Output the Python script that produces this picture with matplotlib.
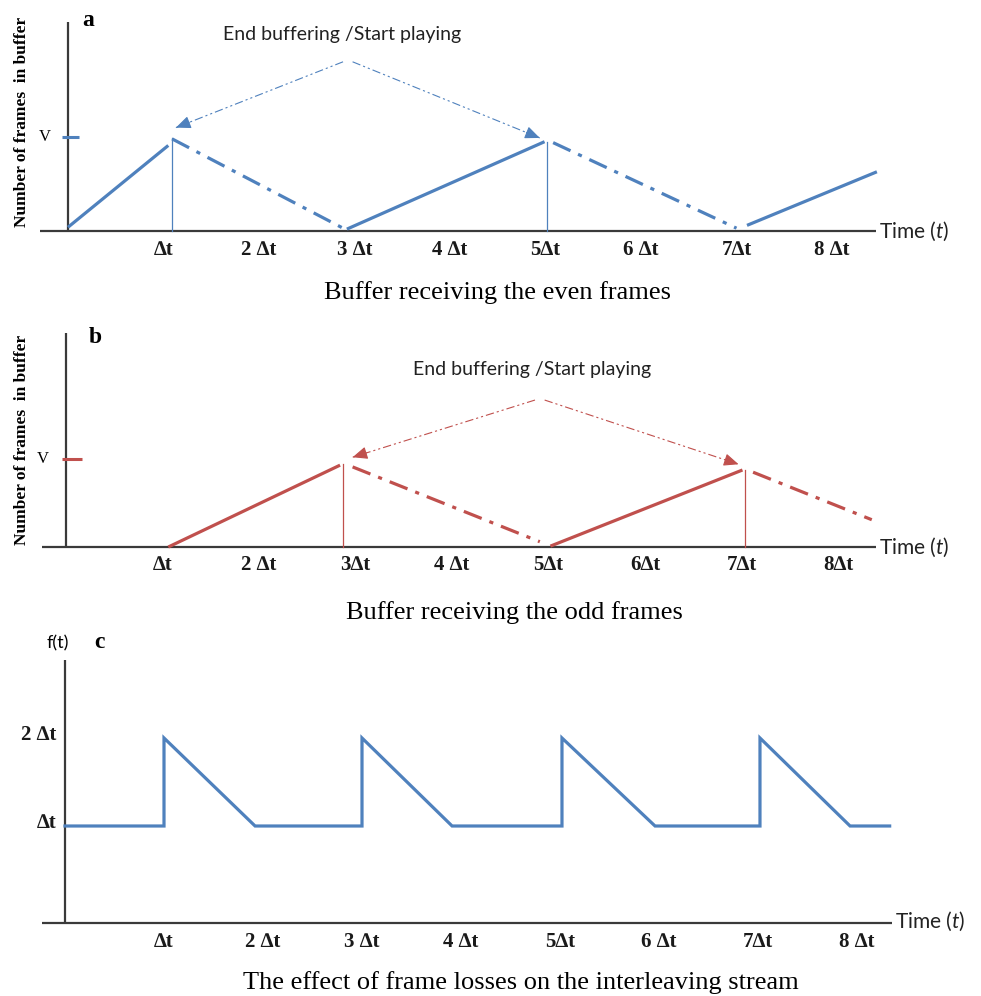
import matplotlib
matplotlib.use('Agg')
import matplotlib.pyplot as plt

plt.rcParams['mathtext.fontset'] = 'custom'
plt.rcParams['mathtext.rm'] = 'Lato'
plt.rcParams['mathtext.it'] = 'Lato:italic'

# ---------------- data (time in units of Δt, level in units of V / Δt) ----------------
steps = [1, 2, 3, 4, 5, 6, 7, 8]
labels_a = ['∆t', '2 ∆t', '3 ∆t', '4 ∆t', '5∆t', '6 ∆t', '7∆t', '8 ∆t']
labels_b = ['∆t', '2 ∆t', '3∆t', '4 ∆t', '5∆t', '6∆t', '7∆t', '8∆t']
labels_c = ['∆t', '2 ∆t', '3 ∆t', '4 ∆t', '5∆t', '6 ∆t', '7∆t', '8 ∆t']

# panel a: buffer receiving even frames
even_fill = [((0.00, 0.04), (1.05, 0.91)), ((2.92, 0.02), (4.99, 0.95)), ((7.11, 0.06), (8.47, 0.63))]
even_drain = [((1.09, 0.98), (2.88, 0.03)), ((5.08, 0.94), (7.00, 0.03))]
even_marks_t = [1.09, 5.02]
even_marks_v = [0.99, 0.95]
even_apex = (2.88, 2.98, 1.80)
even_tips = [(1.13, 1.10), (4.94, 0.99)]

# panel b: buffer receiving odd frames
odd_fill = [((1.06, 0.00), (2.84, 0.93)), ((5.02, 0.01), (7.01, 0.875))]
odd_drain = [((2.97, 0.91), (4.91, 0.06)), ((7.12, 0.85), (8.35, 0.31))]
odd_marks_t = [2.87, 7.04]
odd_marks_v = [0.94, 0.875]
odd_apex = (4.86, 4.96, 1.67)
odd_tips = [(2.97, 1.02), (6.97, 0.94)]

# panel c: f(t)
f_t = [0.0, 1.0, 1.0, 1.92, 3.0, 3.0, 3.91, 5.02, 5.02, 5.96, 7.02, 7.02, 7.93, 8.33]
f_v = [1, 1, 2, 1, 1, 2, 1, 1, 2, 1, 1, 2, 1, 1]
f_levels = [1, 2]
f_level_labels = ['∆t', '2 ∆t']

BLUE = '#4F81BD'
RED = '#C0504D'
AXC = '#3a3a3a'
SERIF = 'Liberation Serif'
SANS = 'Lato'

W, H = 981, 996
fig = plt.figure(figsize=(W / 100, H / 100), dpi=100)


def make_axes(ox, sx, oy, sy, xlim, ylim):
    left = ox + sx * xlim[0]
    right = ox + sx * xlim[1]
    bot = oy - sy * ylim[0]
    top = oy - sy * ylim[1]
    ax = fig.add_axes([left / W, 1 - bot / H, (right - left) / W, (bot - top) / H])
    ax.set_xlim(*xlim)
    ax.set_ylim(*ylim)
    ax.axis('off')
    return ax


DRAIN_LS = (0, (6, 2.6, 1.3, 2.6))
ARROW_LS = (0, (7.5, 2.7, 1.9, 2.7, 1.9, 2.7))
TICK_FS = 15
CAP_FS = 19


def buffer_panel(ax, color, fill, drain, marks_t, marks_v, apex, tips, labels,
                 xaxis, ytop, letter_pos, letter, text_pos, caption_pos, caption,
                 vtick, ylab_pos):
    # axes lines
    ax.plot(xaxis, [0, 0], color=AXC, lw=1.6, solid_capstyle='butt', clip_on=False)
    ax.plot([0, 0], [0, ytop], color=AXC, lw=1.6, solid_capstyle='butt', clip_on=False)
    for (t0, v0), (t1, v1) in fill:
        ax.plot([t0, t1], [v0, v1], color=color, lw=2.3, solid_capstyle='butt')
    for (t0, v0), (t1, v1) in drain:
        ax.plot([t0, t1], [v0, v1], color=color, lw=2.3, ls=DRAIN_LS, dash_capstyle='butt')
    for t, v in zip(marks_t, marks_v):
        ax.plot([t, t], [0, v], color=color, lw=0.9)
    # arrows
    tl, tr, va = apex
    for (tx, ty), start in zip(tips, [tl, tr]):
        ax.plot([start, tx], [va, ty], color=color, lw=0.8, ls=ARROW_LS)
        dx, dy = start - tx, va - ty
        n = (dx ** 2 + dy ** 2) ** 0.5
        ax.annotate('', xy=(tx, ty), xytext=(tx + 0.15 * dx / n, ty + 0.15 * dy / n),
                    arrowprops=dict(arrowstyle='-|>,head_length=0.75,head_width=0.32',
                                    color=color, lw=0.8, shrinkA=0, shrinkB=0,
                                    mutation_scale=12))
    ax.text(text_pos[0], text_pos[1], 'End buffering /Start playing', family=SANS,
            fontsize=14, color='#222222', ha='center', va='center')
    # V tick
    ax.plot(vtick[0], [1, 1], color=color, lw=2.2, solid_capstyle='butt')
    ax.text(vtick[1], 1.0, 'V', family=SERIF, fontsize=12, ha='center', va='center')
    for s, lab in zip(steps, labels):
        ax.text(s, -0.2, lab, family=SERIF, fontweight='bold', fontsize=TICK_FS,
                ha='center', va='center', color='#1a1a1a')
    ax.text(xaxis[1] + 0.03, 0.0, 'Time ($\\it{t}$)', family=SANS, fontsize=15,
            ha='left', va='center', color='#222222')
    ax.text(letter_pos[0], letter_pos[1], letter, family=SERIF, fontweight='bold',
            fontsize=17, ha='center', va='center')
    ax.text(caption_pos[0], caption_pos[1], caption, family=SERIF, fontsize=CAP_FS,
            ha='center', va='center')
    ax.text(ylab_pos[0], ylab_pos[1], 'Number of frames  in buffer', family=SERIF,
            fontweight='bold', fontsize=12.5, rotation=90, ha='center', va='center')


# ---------------- panel a ----------------
ax_a = make_axes(68, 95.5, 231, 94, (-0.7, 9.5), (-0.7, 2.4))
buffer_panel(ax_a, BLUE, even_fill, even_drain, even_marks_t, even_marks_v, even_apex,
             even_tips, labels_a, [-0.29, 8.46], 2.22, (0.21, 2.24), 'a', (2.87, 2.09),
             (4.50, -0.65), 'Buffer receiving the even frames', ([-0.06, 0.11], -0.24),
             (-0.48, 1.16))

# ---------------- panel b ----------------
ax_b = make_axes(66, 96.5, 547, 88, (-0.65, 9.4), (-0.8, 2.55))
buffer_panel(ax_b, RED, odd_fill, odd_drain, odd_marks_t, odd_marks_v, odd_apex,
             odd_tips, labels_b, [-0.25, 8.39], 2.43, (0.30, 2.38), 'b', (4.83, 2.02),
             (4.65, -0.75), 'Buffer receiving the odd frames', ([-0.04, 0.17], -0.24),
             (-0.46, 1.22))

# ---------------- panel c ----------------
ax_c = make_axes(65, 99, 914, 88, (-0.6, 9.2), (-0.85, 3.3))
ax_c.plot([-0.23, 8.35], [-0.1, -0.1], color=AXC, lw=1.6, solid_capstyle='butt', clip_on=False)
ax_c.plot([0, 0], [-0.1, 2.89], color=AXC, lw=1.6, solid_capstyle='butt')
ax_c.plot(f_t, f_v, color=BLUE, lw=2.3, solid_joinstyle='miter')
for s, lab in zip(steps, labels_c):
    ax_c.text(s, -0.32, lab, family=SERIF, fontweight='bold', fontsize=TICK_FS,
              ha='center', va='center', color='#1a1a1a')
for lv, lab in zip(f_levels, f_level_labels):
    ax_c.text(-0.09, lv + 0.03, lab, family=SERIF, fontweight='bold', fontsize=TICK_FS,
              ha='right', va='center', color='#1a1a1a')
ax_c.text(-0.07, 3.08, 'f(t)', family=SANS, fontsize=13, ha='center', va='center')
ax_c.text(0.35, 3.09, 'c', family=SERIF, fontweight='bold', fontsize=17, ha='center', va='center')
ax_c.text(8.38, -0.08, 'Time ($\\it{t}$)', family=SANS, fontsize=15, ha='left', va='center',
          color='#222222')
ax_c.text(4.60, -0.78, 'The effect of frame losses on the interleaving stream', family=SERIF,
          fontsize=CAP_FS, ha='center', va='center')

fig.savefig('out.png', dpi=100, facecolor='white')
